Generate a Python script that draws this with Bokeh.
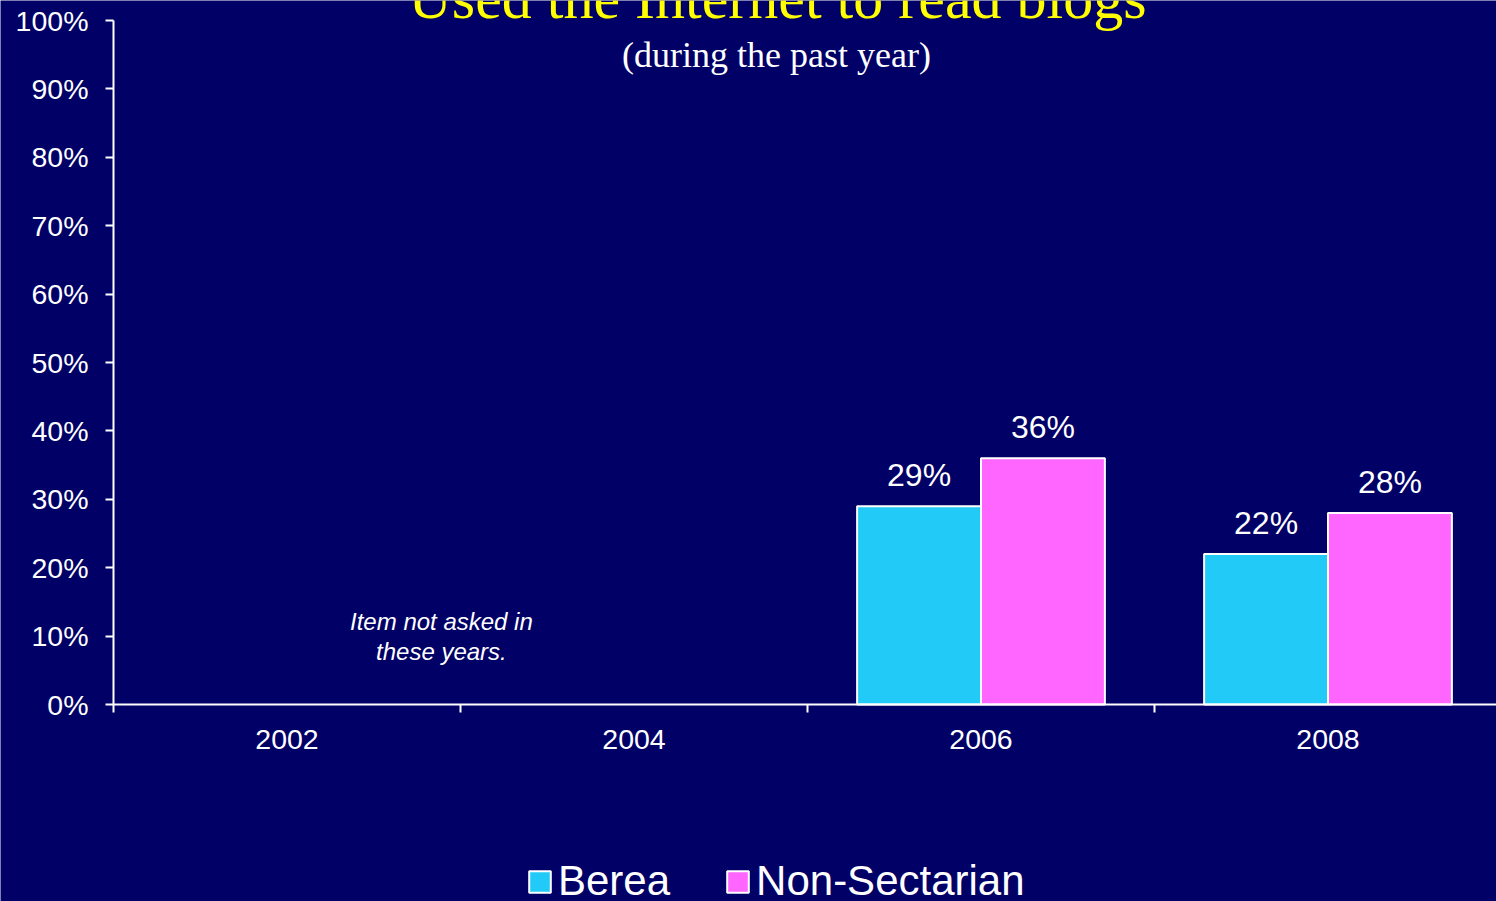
from bokeh.plotting import figure
from bokeh.models import (Range1d, FixedTicker, PrintfTickFormatter, Label,
                          Legend, LegendItem, ColumnDataSource)
from bokeh.core.properties import value
from bokeh.embed import file_html
from bokeh.resources import INLINE

# ---- data ----
years = ["2002", "2004", "2006", "2008"]
berea = [None, None, 29, 22]
non_sectarian = [None, None, 36, 28]
series_names = ["Berea", "Non-Sectarian"]
y_ticks = [0, 10, 20, 30, 40, 50, 60, 70, 80, 90, 100]
title_text = "Used the Internet to read blogs"
subtitle_text = "(during the past year)"
note_text = "Item not asked in\nthese years."

# ---- style ----
BG = "#000066"
CYAN = "#22CBF7"
MAGENTA = "#FF66FF"
SANS = "Liberation Sans"
SERIF = "Liberation Serif"
BAR_W = 0.357

W, H = 1496, 901
X0, Y0 = 113, 704          # screen position of the data origin
CAT_PX, PCT_PX = 347, 6.84  # pixels per category / per percent

p = figure(width=W, height=H, output_backend="svg", toolbar_location=None,
           x_range=Range1d(-X0 / CAT_PX, (W - X0) / CAT_PX),
           y_range=Range1d(-(H - Y0) / PCT_PX, Y0 / PCT_PX),
           min_border=0)
p.background_fill_color = BG
p.border_fill_color = BG
p.outline_line_color = None
p.xgrid.visible = False
p.ygrid.visible = False

centers = [i + 0.5 for i in range(len(years))]


def bar_source(vals, offset):
    xs, tops, labels = [], [], []
    for c, v in zip(centers, vals):
        if v is None:
            continue
        xs.append(c + offset)
        tops.append(v)
        labels.append(f"{v}%")
    return ColumnDataSource(dict(x=xs, top=tops, label=labels))


src_b = bar_source(berea, -BAR_W / 2)
src_n = bar_source(non_sectarian, BAR_W / 2)

r_b = p.vbar(x="x", top="top", bottom=0, width=BAR_W, source=src_b,
             fill_color=CYAN, line_color="white", line_width=2)
r_n = p.vbar(x="x", top="top", bottom=0, width=BAR_W, source=src_n,
             fill_color=MAGENTA, line_color="white", line_width=2)

for src in (src_b, src_n):
    p.text(x="x", y="top", text="label", source=src, y_offset=-31,
           text_align="center", text_baseline="middle",
           text_color="white", text_font=value(SANS), text_font_size="32px")

# ---- axes ----
xa = p.xaxis[0]
xa.fixed_location = 0
xa.bounds = (0, (W - X0) / CAT_PX)
xa.ticker = FixedTicker(ticks=centers, minor_ticks=list(range(len(years))))
xa.major_label_overrides = {c: y for c, y in zip(centers, years)}
xa.major_tick_line_color = None
xa.major_tick_out = 0
xa.major_tick_in = 0
xa.minor_tick_line_color = "white"
xa.minor_tick_line_width = 2
xa.minor_tick_out = 8
xa.minor_tick_in = 0
xa.axis_line_color = "white"
xa.axis_line_width = 2
xa.major_label_text_color = "white"
xa.major_label_text_font = SANS
xa.major_label_text_font_size = "28.5px"
xa.major_label_standoff = 17

ya = p.yaxis[0]
ya.fixed_location = 0
ya.bounds = (0, 100)
ya.ticker = FixedTicker(ticks=y_ticks, minor_ticks=[])
ya.formatter = PrintfTickFormatter(format="%d%%")
ya.major_tick_line_color = "white"
ya.major_tick_line_width = 2
ya.major_tick_out = 8
ya.major_tick_in = 0
ya.minor_tick_line_color = None
ya.axis_line_color = "white"
ya.axis_line_width = 2
ya.major_label_text_color = "white"
ya.major_label_text_font = SANS
ya.major_label_text_font_size = "28.5px"
ya.major_label_standoff = 17

# ---- titles / note ----
p.add_layout(Label(x=777, y=904, x_units="screen", y_units="screen", text=title_text,
                   text_align="center", text_baseline="middle",
                   text_color="#FFFF00", text_font=SERIF, text_font_size="60px"))
p.add_layout(Label(x=776, y=847, x_units="screen", y_units="screen", text=subtitle_text,
                   text_align="center", text_baseline="middle",
                   text_color="white", text_font=SERIF, text_font_size="36px"))
p.add_layout(Label(x=0.945, y=9.9, text=note_text, text_align="center",
                   text_baseline="middle", text_color="white", text_font=SANS,
                   text_font_style="italic", text_font_size="24px",
                   text_line_height=1.1))

# ---- legend ----
legend = Legend(items=[LegendItem(label=series_names[0], renderers=[r_b]),
                       LegendItem(label=series_names[1], renderers=[r_n])],
                location=(526, -4), orientation="horizontal",
                label_text_font=SANS, label_text_font_size="42px",
                label_text_color="white", glyph_width=27, glyph_height=27,
                label_standoff=5, spacing=54, padding=0, margin=0,
                background_fill_alpha=0, border_line_alpha=0)
p.add_layout(legend)

open("out.html", "w").write(file_html(p, INLINE))
